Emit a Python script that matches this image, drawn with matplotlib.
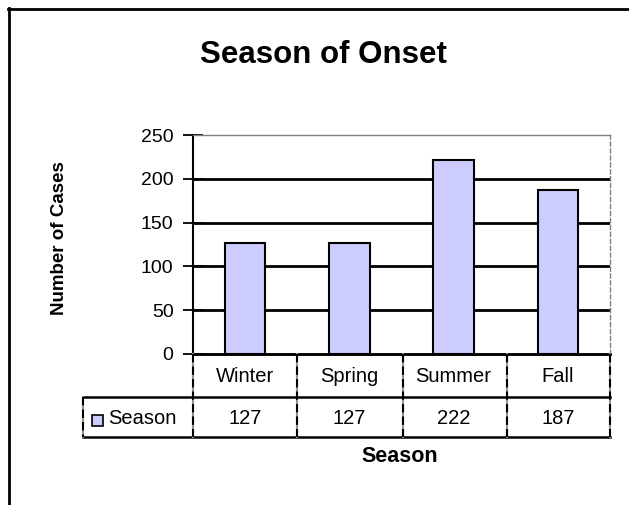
import matplotlib
matplotlib.use("Agg")
import matplotlib.pyplot as plt
from matplotlib.lines import Line2D
from matplotlib.patches import Rectangle
from matplotlib.transforms import blended_transform_factory

plt.rcParams['font.family'] = ['Liberation Sans', 'DejaVu Sans']

# data
seasons = ["Winter", "Spring", "Summer", "Fall"]
cases = [127, 127, 222, 187]
series_name = "Season"
yticks = [0, 50, 100, 150, 200, 250]

W, H = 629, 505
bar_color = "#ccccff"

def fx(x):
    return x / W

def fy(y):
    return 1 - y / H

fig = plt.figure(figsize=(W / 100, H / 100), dpi=100)
fig.patch.set_facecolor("white")

# plot area in pixels: left 193, right 610, top 135, bottom 354
ax = fig.add_axes([fx(193), fy(354), fx(610) - fx(193), fy(135) - fy(354)])
ax.set_facecolor("white")

x = list(range(len(seasons)))
ax.bar(x, cases, width=0.39, color=bar_color, edgecolor="black", linewidth=1.5, zorder=3)
ax.set_xlim(-0.5, len(seasons) - 0.5)
ax.set_ylim(0, 250)
ax.set_yticks(yticks)
ax.set_yticklabels([str(t) for t in yticks], fontsize=14)
ax.tick_params(axis="y", direction="inout", length=14, width=1.3, pad=7)
ax.set_xticks([])
for t in yticks[1:-1]:
    ax.axhline(t, color="black", linewidth=2, zorder=1)

for s in ["top", "right"]:
    ax.spines[s].set_color("#808080")
    ax.spines[s].set_linewidth(1)
ax.spines["right"].set_linestyle((0, (3, 2)))
ax.spines["left"].set_color("black")
ax.spines["left"].set_linewidth(1.5)
ax.spines["bottom"].set_color("black")
ax.spines["bottom"].set_linewidth(1.8)

# data table under the plot
def hline(x0, x1, y, **kw):
    fig.add_artist(Line2D([fx(x0), fx(x1)], [fy(y), fy(y)], **kw))

def vline(xp, y0, y1):
    fig.add_artist(Line2D([fx(xp), fx(xp)], [fy(y0), fy(y1)], color="#909090", linewidth=1.5))
    fig.add_artist(Line2D([fx(xp), fx(xp)], [fy(y0), fy(y1)], color="black", linewidth=1.5,
                          linestyle=(0, (4, 2))))

hline(193, 610, 354, color="black", linewidth=1.8)
hline(83, 610, 397, color="black", linewidth=1.8)
hline(83, 610, 437, color="black", linewidth=1.8)
col_edges = [193, 297, 403, 507, 610]
for xe in col_edges:
    vline(xe, 354, 437)
vline(83, 397, 437)

trans = blended_transform_factory(ax.transData, fig.transFigure)
for i, (s, v) in enumerate(zip(seasons, cases)):
    fig.text(i, fy(376), s, transform=trans, ha="center", va="center", fontsize=14.5)
    fig.text(i, fy(418), str(v), transform=trans, ha="center", va="center", fontsize=14.5)

# legend key
fig.add_artist(Rectangle((fx(92), fy(426)), fx(103) - fx(92), fy(415) - fy(426),
                         facecolor=bar_color, edgecolor="black", linewidth=1.2,
                         transform=fig.transFigure))
fig.text(fx(108), fy(418), series_name, ha="left", va="center", fontsize=14.5)

# titles
fig.text(fx(323), fy(55), "Season of Onset", ha="center", va="center",
         fontsize=22.5, fontweight="bold")
fig.text(fx(400), fy(457), "Season", ha="center", va="center",
         fontsize=15.5, fontweight="bold")
fig.text(fx(60), fy(238), "Number of Cases", ha="center", va="center",
         rotation=90, fontsize=13.5, fontweight="bold")

# outer chart border (top and left only are visible)
hline(8, 629, 8.5, color="black", linewidth=2)
fig.add_artist(Line2D([fx(8.5), fx(8.5)], [fy(8), fy(505)], color="black", linewidth=2))

fig.savefig("out.png", dpi=100, facecolor="white")
